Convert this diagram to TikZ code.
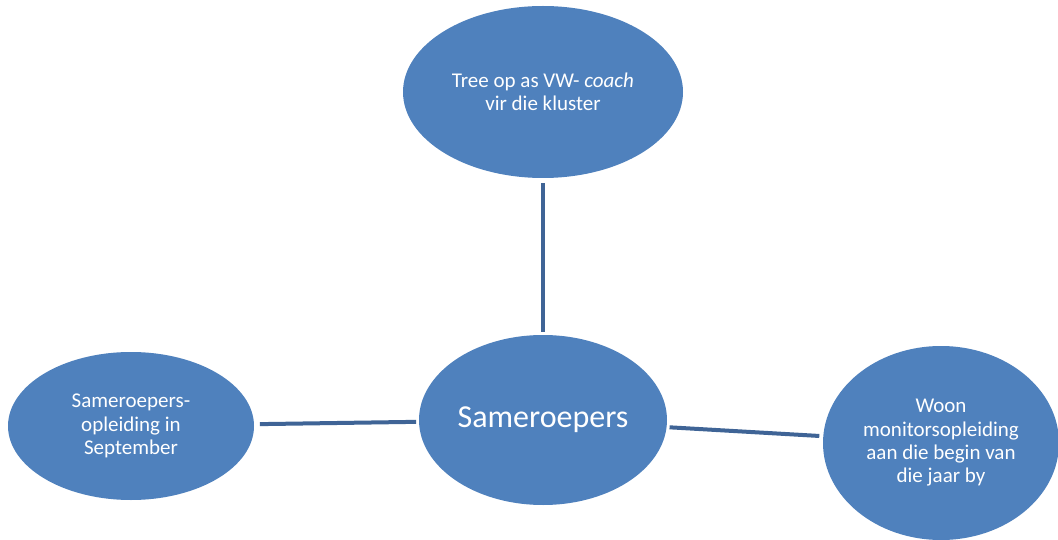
\documentclass[tikz,border=0pt]{standalone}
\usepackage{fontspec}
\setmainfont{Carlito}
\usetikzlibrary{shapes.geometric,positioning}
\definecolor{sameBlue}{HTML}{4F81BD}
\definecolor{sameLine}{HTML}{3F6496}

\begin{document}
\begin{tikzpicture}[x=1pt,y=-1pt,line cap=butt,line join=round]
\path[use as bounding box,fill=white] (0,0) rectangle (1058,540);
\tikzset{bubble/.style={ellipse,fill=sameBlue,text=white,align=center,inner sep=0pt,font=\fontsize{21}{23.3}\selectfont},link/.style={draw=sameLine,line width=4pt}}
\node[bubble,minimum width=280pt,minimum height=172pt] (coach) at (543,92) {Tree op as VW- \textit{coach}\\vir die kluster};
\node[bubble,minimum width=248pt,minimum height=170pt,font=\fontsize{32}{38}\selectfont,outer sep=3pt] (hub) at (543,420) {Sameroepers};
\node[bubble,minimum width=246pt,minimum height=148pt,outer sep=6pt] (training) at (131,426) {Sameroepers-\\opleiding in\\September};
\node[bubble,minimum width=236pt,minimum height=194pt,outer sep=4pt] (monitor) at (941,443) {Woon\\monitorsopleiding\\aan die begin van\\die jaar by};
\draw[link,shorten <=5pt] (coach) -- (hub);
\draw[link] (training) -- (hub);
\draw[link] (hub) -- (monitor);
\end{tikzpicture}
\end{document}
